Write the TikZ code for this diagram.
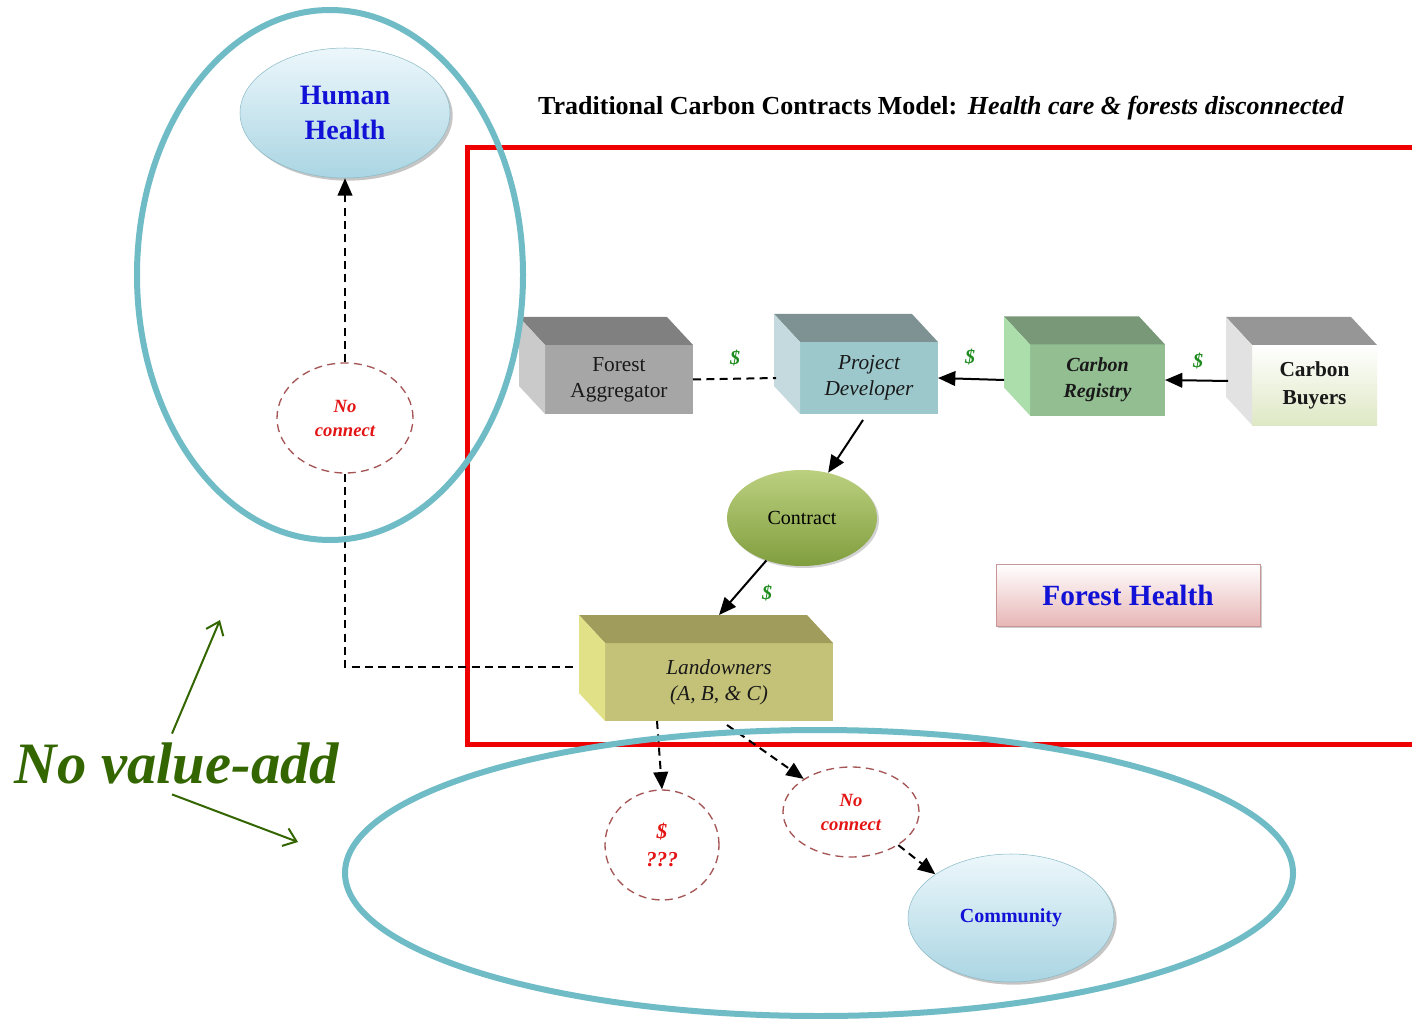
\documentclass[tikz,border=0pt]{standalone}
\usepackage{fontspec}
\setmainfont{Liberation Serif}
\usetikzlibrary{arrows.meta,shapes.geometric,shadows}

\definecolor{ringteal}{RGB}{112,188,198}
\definecolor{framered}{RGB}{238,0,0}
\definecolor{hblue}{RGB}{18,18,215}
\definecolor{ncred}{RGB}{228,20,20}
\definecolor{ncborder}{RGB}{165,85,85}
\definecolor{dgreen}{RGB}{30,140,30}
\definecolor{nvgreen}{RGB}{52,102,0}
\definecolor{bubtop}{RGB}{236,247,251}
\definecolor{bubbot}{RGB}{170,213,227}
\definecolor{bubline}{RGB}{140,188,200}
\definecolor{contop}{RGB}{188,208,128}
\definecolor{conbot}{RGB}{128,158,62}
\definecolor{aggfront}{RGB}{166,166,166}
\definecolor{aggtop}{RGB}{128,128,128}
\definecolor{aggside}{RGB}{202,202,202}
\definecolor{devfront}{RGB}{156,200,204}
\definecolor{devtop}{RGB}{126,146,148}
\definecolor{devside}{RGB}{196,218,222}
\definecolor{regfront}{RGB}{146,190,146}
\definecolor{regtop}{RGB}{120,152,120}
\definecolor{regside}{RGB}{172,222,172}
\definecolor{buybot}{RGB}{222,232,196}
\definecolor{buytop}{RGB}{150,150,150}
\definecolor{buyside}{RGB}{226,226,226}
\definecolor{landfront}{RGB}{196,194,120}
\definecolor{landtop}{RGB}{160,156,92}
\definecolor{landside}{RGB}{225,225,135}
\definecolor{fhbot}{RGB}{232,182,182}
\definecolor{fhline}{RGB}{200,150,150}

\newcommand{\fsz}[2]{\fontsize{#1}{#2}\selectfont}
% top and left faces of a box node
\newcommand{\cubefaces}[3]{%
  \fill[#2] (#1.north west) -- ++(-26,-28) -- ([shift={(-26,-28)}]#1.north east) -- (#1.north east) -- cycle;
  \fill[#3] (#1.north west) -- ++(-26,-28) -- ([shift={(-26,-28)}]#1.south west) -- (#1.south west) -- cycle;}

\tikzset{
  ring/.style={draw=ringteal, line width=4.5pt},
  frame/.style={draw=framered, line width=3.75pt},
  bubble/.style={ellipse, draw=bubline, top color=bubtop, bottom color=bubbot, text=hblue, align=center,
    drop shadow={opacity=0.45, shadow xshift=2pt, shadow yshift=-2pt}},
  noconn/.style={ellipse, draw=ncborder, line width=1pt, dash pattern=on 6pt off 4pt, fill=white,
    text=ncred, align=center, font=\fsz{14}{18}\bfseries\itshape},
  cube/.style={rectangle, inner sep=0pt, outer sep=0pt, align=center, text=black!90},
  arr/.style={-{Triangle[length=13pt,width=11pt]}, line width=1.5pt},
  darr/.style={arr, dash pattern=on 6pt off 4pt},
  dline/.style={line width=1.5pt, dash pattern=on 6pt off 4pt},
  dollar/.style={text=dgreen, font=\fsz{15}{15}\bfseries\itshape},
  nvarr/.style={-{Straight Barb[length=9pt,width=14pt]}, draw=nvgreen, line width=1.5pt}
}

\begin{document}
\begin{tikzpicture}[x=0.75pt,y=0.75pt,yscale=-1,xscale=1]
\useasboundingbox (0,0) rectangle (1412,1019);
\fill[white] (0,0) rectangle (1412,1019);

%Red frame
\draw[frame] (1420,148) -- (467,148) -- (467,744) -- (1420,744);

%Title
\node[font=\fsz{19.5}{22}] (title) at (941,108) {\textbf{Traditional Carbon Contracts Model:}\hspace{8pt}\textbf{\textit{Health care \& forests disconnected}}};

%Left column
\node[bubble, minimum width=157.5pt, minimum height=97.5pt, font=\fsz{21}{26}\bfseries] (hh) at (345,113) {Human\\Health};
\node[noconn, minimum width=102pt, minimum height=82.5pt] (nc1) at (345,418) {No\\connect};

%Boxes
\node[cube, fill=aggfront, minimum width=111pt, minimum height=51.75pt, font=\fsz{16}{19.5}] (agg) at (619,379.5) {Forest\\Aggregator};
\cubefaces{agg}{aggtop}{aggside}
\node[cube, fill=devfront, minimum width=103.5pt, minimum height=54pt, font=\fsz{16}{19.5}\itshape] (dev) at (869,378) {Project\\Developer};
\cubefaces{dev}{devtop}{devside}
\node[cube, fill=regfront, minimum width=101.25pt, minimum height=53.25pt, font=\fsz{15}{19.5}\bfseries\itshape] (reg) at (1097.5,380) {Carbon\\Registry};
\cubefaces{reg}{regtop}{regside}
\node[cube, top color=white, bottom color=buybot, minimum width=93.75pt, minimum height=60pt, font=\fsz{16}{21}\bfseries] (buy) at (1314.5,385) {Carbon\\Buyers};
\cubefaces{buy}{buytop}{buyside}
\node[cube, fill=landfront, minimum width=171pt, minimum height=58.5pt, font=\fsz{16}{19.5}\itshape] (land) at (719,682) {Landowners\\(A, B, \& C)};
\cubefaces{land}{landtop}{landside}

%Contract and bottom
\node[ellipse, top color=contop, bottom color=conbot, minimum width=112.5pt, minimum height=72pt, font=\fsz{15}{15},
  drop shadow={opacity=0.35, shadow xshift=1.5pt, shadow yshift=-1.5pt}] (con) at (802,518) {Contract};
\node[noconn, minimum width=85.5pt, minimum height=82.5pt, font=\fsz{16}{21}\bfseries\itshape] (qq) at (662,845) {\$\\???};
\node[noconn, minimum width=102pt, minimum height=67.5pt] (nc2) at (851,812) {No\\connect};
\node[bubble, minimum width=154.5pt, minimum height=96pt, font=\fsz{15}{15}\bfseries] (comm) at (1011,918) {Community};

%Forest health
\node[rectangle, draw=fhline, top color=white, bottom color=fhbot, minimum width=198pt, minimum height=46.5pt,
  text=hblue, font=\fsz{22}{22}\bfseries, drop shadow={opacity=0.4, shadow xshift=1.5pt, shadow yshift=-1.5pt}] (fh) at (1128,595) {Forest Health};

%Connectors
\draw[darr] (nc1.north) -- (hh.south);
\coordinate (landin) at (575,667);
\draw[dline] (nc1.south) |- (landin);
\draw[dline] (agg.east) -- ([shift={(-24,0)}]dev.west);
\draw[arr] ([shift={(-26,0)}]reg.west) -- (dev.east);
\draw[arr] ([shift={(-24,-4)}]buy.west) -- (reg.east);
\draw[arr] ([shift={(-6,6)}]dev.south) -- (con.60);
\draw[arr] (con.230) -- ([shift={(0,-28)}]land.north);
\draw[darr] ([shift={(-62,0)}]land.south) -- (qq.north);
\draw[darr] ([shift={(8,4)}]land.south) -- (nc2.145);
\draw[darr] (nc2.325) -- (comm.150);

%Dollar labels
\node[dollar] (d1) at (735,358) {\$};
\node[dollar] (d2) at (970,357) {\$};
\node[dollar] (d3) at (1198,361) {\$};
\node[dollar] (d4) at (767,593) {\$};

%No value-add
\node[text=nvgreen, font=\fsz{44}{44}\bfseries\itshape] (nva) at (177,763) {No value-add};
\coordinate (nvup) at (220,620);
\coordinate (nvdn) at (298,842);
\draw[nvarr] ([shift={(-5,-4)}]nva.north) -- (nvup);
\draw[nvarr] ([shift={(-5,6)}]nva.south) -- (nvdn);

%Rings
\draw[ring] (330,275) ellipse [x radius=193, y radius=265];
\draw[ring] (819,873) ellipse [x radius=474, y radius=143];

\end{tikzpicture}
\end{document}
